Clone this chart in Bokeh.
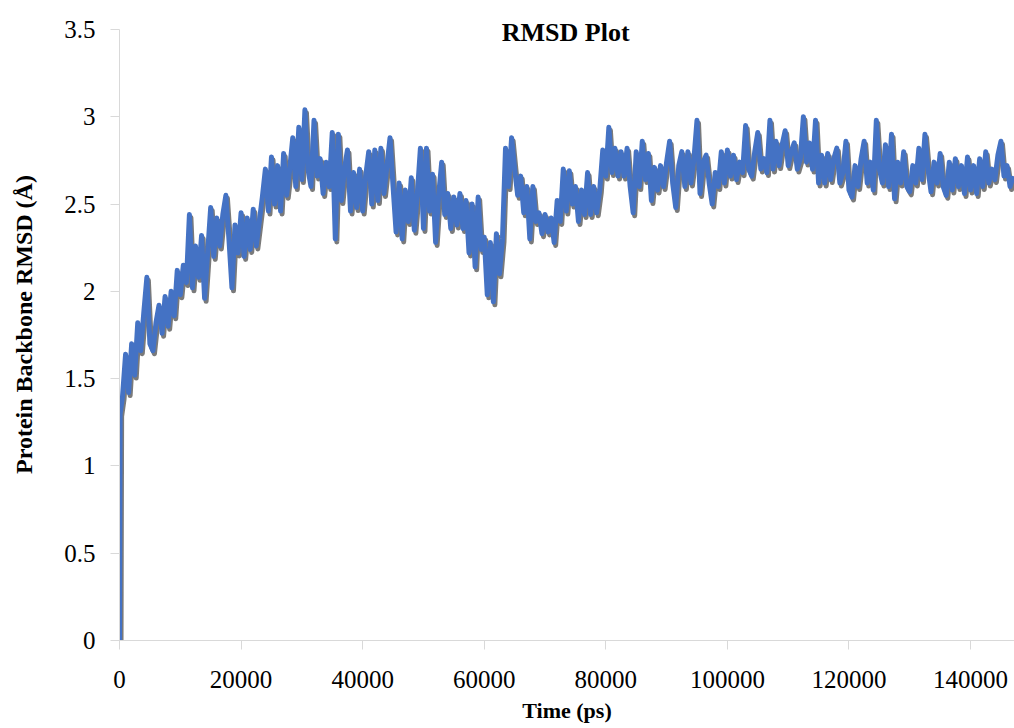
from bokeh.plotting import figure
from bokeh.models import Range1d, FixedTicker, Label, ColumnDataSource
from bokeh.transform import dodge
from bokeh.embed import file_html
from bokeh.resources import INLINE

# ---- data ----
time_ps = [0, 100] + list(range(500, 147500, 500))

rmsd = [
    0.00, 1.30,
    1.40, 1.64, 1.42, 1.70, 1.52, 1.82, 1.66, 1.88, 2.08,
    1.70, 1.66, 1.82, 1.92, 1.76, 1.97, 1.80, 2.00, 1.86, 2.12,
    1.98, 2.15, 2.05, 2.44, 2.02, 2.26, 2.08, 2.32, 1.96, 2.22,
    2.48, 2.20, 2.42, 2.26, 2.44, 2.55, 2.30, 2.02, 2.38, 2.22,
    2.45, 2.20, 2.42, 2.24, 2.47, 2.26, 2.40, 2.54, 2.70, 2.46,
    2.77, 2.50, 2.72, 2.46, 2.79, 2.55, 2.70, 2.88, 2.60, 2.94,
    2.64, 3.04, 2.70, 2.60, 2.98, 2.66, 2.76, 2.56, 2.74, 2.60,
    2.91, 2.30, 2.90, 2.52, 2.70, 2.81, 2.46, 2.68, 2.48, 2.70,
    2.46, 2.66, 2.80, 2.50, 2.81, 2.52, 2.82, 2.56, 2.72, 2.88,
    2.60, 2.34, 2.62, 2.30, 2.58, 2.40, 2.65, 2.35, 2.56, 2.82,
    2.36, 2.82, 2.46, 2.67, 2.28, 2.55, 2.74, 2.44, 2.56, 2.36,
    2.54, 2.38, 2.56, 2.36, 2.52, 2.22, 2.50, 2.14, 2.54, 2.24,
    2.31, 1.98, 2.28, 1.94, 2.33, 2.10, 2.30, 2.82, 2.60, 2.88,
    2.70, 2.55, 2.66, 2.45, 2.60, 2.30, 2.60, 2.40, 2.45, 2.33,
    2.44, 2.34, 2.42, 2.28, 2.52, 2.40, 2.70, 2.46, 2.69, 2.50,
    2.60, 2.40, 2.58, 2.44, 2.68, 2.44, 2.60, 2.45, 2.58, 2.81,
    2.66, 2.94, 2.68, 2.82, 2.66, 2.80, 2.66, 2.82, 2.60, 2.45,
    2.80, 2.60, 2.86, 2.64, 2.79, 2.52, 2.71, 2.58, 2.72, 2.60,
    2.74, 2.86, 2.62, 2.48, 2.72, 2.80, 2.60, 2.80, 2.62, 2.76,
    2.98, 2.56, 2.74, 2.78, 2.62, 2.50, 2.68, 2.60, 2.80, 2.62,
    2.81, 2.66, 2.78, 2.64, 2.74, 2.68, 2.95, 2.70, 2.66, 2.80,
    2.91, 2.70, 2.76, 2.68, 2.98, 2.70, 2.86, 2.72, 2.84, 2.92,
    2.72, 2.80, 2.85, 2.70, 2.76, 3.00, 2.74, 2.85, 2.70, 2.98,
    2.62, 2.78, 2.62, 2.79, 2.64, 2.76, 2.82, 2.62, 2.68, 2.86,
    2.58, 2.54, 2.72, 2.60, 2.76, 2.86, 2.62, 2.74, 2.58, 2.98,
    2.70, 2.62, 2.84, 2.60, 2.90, 2.53, 2.74, 2.62, 2.80, 2.60,
    2.57, 2.72, 2.62, 2.82, 2.64, 2.90, 2.70, 2.57, 2.74, 2.62,
    2.79, 2.60, 2.55, 2.74, 2.58, 2.76, 2.60, 2.72, 2.56, 2.77,
    2.58, 2.72, 2.56, 2.76, 2.60, 2.80, 2.62, 2.70, 2.64, 2.78,
    2.86, 2.66, 2.72, 2.60, 2.66,
]

x_ticks = [0, 20000, 40000, 60000, 80000, 100000, 120000, 140000]
x_tick_labels = ["0", "20000", "40000", "60000", "80000", "100000", "120000", "140000"]
y_ticks = [0, 0.5, 1, 1.5, 2, 2.5, 3, 3.5]
y_tick_labels = ["0", "0.5", "1", "1.5", "2", "2.5", "3", "3.5"]

title_text = "RMSD Plot"
x_label = "Time (ps)"
y_label = "Protein Backbone RMSD (\u00c5)"

X_START, X_END = 0, 147230
Y_START, Y_END = 0, 3.62
Y_AXIS_TOP = 3.5

SERIF = "Liberation Serif"
BLUE = "#4472C4"
AXIS_GRAY = "#d9d9d9"

src = ColumnDataSource(dict(time=time_ps, rmsd=rmsd))

p = figure(width=1014, height=728, output_backend="svg", toolbar_location=None,
           x_range=Range1d(X_START, X_END), y_range=Range1d(Y_START, Y_END),
           min_border_left=119, min_border_right=0, min_border_top=8,
           min_border_bottom=88)

p.outline_line_color = None
p.grid.visible = False
p.background_fill_color = "white"
p.border_fill_color = "white"

# soft shadow below the trace
p.line(x=dodge("time", 250, range=p.x_range), y=dodge("rmsd", -0.017, range=p.y_range),
       source=src, line_color="#222222", line_alpha=0.6, line_width=5,
       line_join="round")
# main trace
p.line(x="time", y="rmsd", source=src, line_color=BLUE, line_width=5,
       line_join="round")

for ax, ticks, labels in ((p.xaxis[0], x_ticks, x_tick_labels),
                          (p.yaxis[0], y_ticks, y_tick_labels)):
    ax.ticker = FixedTicker(ticks=ticks)
    ax.major_label_overrides = {t: l for t, l in zip(ticks, labels)}
    ax.axis_line_color = AXIS_GRAY
    ax.major_tick_line_color = AXIS_GRAY
    ax.minor_tick_line_color = None
    ax.major_tick_in = 0
    ax.major_tick_out = 9
    ax.major_label_text_font = SERIF
    ax.major_label_text_font_size = "25px"
    ax.major_label_text_color = "black"
    ax.axis_label_text_font = SERIF
    ax.axis_label_text_font_style = "bold"
    ax.axis_label_text_color = "black"

p.yaxis.bounds = (Y_START, Y_AXIS_TOP)
p.xaxis.axis_label = x_label
p.yaxis.axis_label = y_label
p.xaxis.axis_label_text_font_size = "22px"
p.yaxis.axis_label_text_font_size = "24px"
p.xaxis.major_label_standoff = 21
p.xaxis.axis_label_standoff = 7
p.yaxis.major_label_standoff = 15
p.yaxis.axis_label_standoff = 24

title = Label(x=73400, y=3.48, text=title_text,
              text_align="center", text_baseline="middle",
              text_font=SERIF, text_font_style="bold", text_font_size="26px",
              text_color="black")
p.add_layout(title)

open("out.html", "w").write(file_html(p, INLINE))
